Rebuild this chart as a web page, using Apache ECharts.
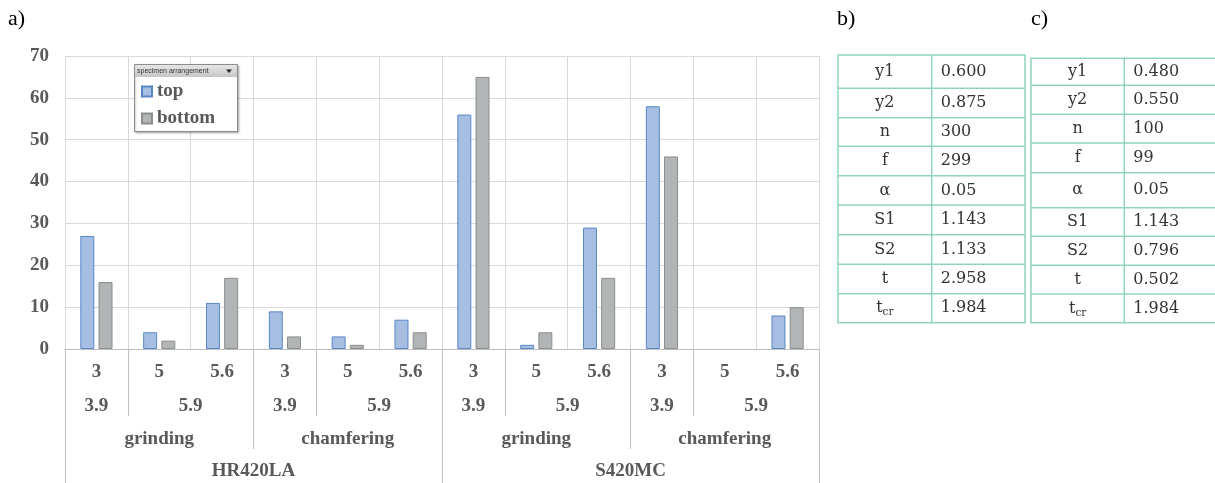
<!DOCTYPE html>
<html><head><meta charset="utf-8">
<script src="https://cdn.jsdelivr.net/npm/echarts@6/dist/echarts.min.js"></script>
<style>html,body{margin:0;padding:0;background:#fff}#c{width:1215px;height:483px}</style>
</head><body><div id="c"></div>
<script>
// ---------- data ----------
const level1 = ['3','5','5.6','3','5','5.6','3','5','5.6','3','5','5.6'];
const level2Labels = ['3.9','5.9','3.9','5.9','3.9','5.9','3.9','5.9'];
const level2Spans = [1,2,1,2,1,2,1,2];
const level3Labels = ['grinding','chamfering','grinding','chamfering'];
const level3Spans = [3,3,3,3];
const level4Labels = ['HR420LA','S420MC'];
const level4Spans = [6,6];
const seriesNames = ['top','bottom'];
const topValues = [27,4,11,9,3,7,56,1,29,58,0,8];
const bottomValues = [16,2,17,3,1,4,65,4,17,46,0,10];
const yMin = 0, yMax = 70, yStep = 10;
const legendTitle = 'specimen arrangement';
const tableKeys = ['y1','y2','n','f','α','S1','S2','t','t_cr'];
const tableBValues = ['0.600','0.875','300','299','0.05','1.143','1.133','2.958','1.984'];
const tableCValues = ['0.480','0.550','100','99','0.05','1.143','0.796','0.502','1.984'];
const panelLabels = ['a)','b)','c)'];

// ---------- layout / style ----------
const LBL = {fontFamily:'Liberation Serif', fontWeight:'bold', fontSize:19, color:'#595959'};
const GRIDC = '#d9d9d9', AXC = '#bfbfbf';
const TBL = {font:'DejaVu Serif', size:16, color:'#333333', border:'#8fd3bd'};
const tableBLayout = {x:[838,931.7,1025], y:[55,88.3,117.7,146.3,175.7,205,234.7,264.3,293.7,322.7]};
const tableCLayout = {x:[1031,1124.3,1218], y:[58.3,85.3,114.3,143,172.7,207.7,236.3,265.3,294,322.7]};

function spanInfo(spans){
  const centers=[], bounds=[0]; let p=0;
  spans.forEach(s=>{centers.push(p+s/2); p+=s; bounds.push(p);});
  return {centers,bounds};
}
function levelAxis(labels, spans, tickLen, margin){
  const info = spanInfo(spans);
  return {
    type:'value', min:0, max:level1.length, gridIndex:0, position:'bottom',
    axisLine:{show:false}, splitLine:{show:false},
    axisTick:{show:true, customValues:info.bounds, length:tickLen, lineStyle:{color:AXC,width:1}},
    axisLabel:{show:true, customValues:info.centers, margin:margin, verticalAlign:'middle',
      fontFamily:LBL.fontFamily, fontWeight:LBL.fontWeight, fontSize:LBL.fontSize, color:LBL.color,
      formatter:function(v){ const i=info.centers.findIndex(c=>Math.abs(c-v)<1e-6); return i>=0?labels[i]:''; }}
  };
}

function tableGraphics(keys, vals, L){
  const els=[];
  const x0=L.x[0], x1=L.x[1], x2=L.x[2], ys=L.y;
  els.push({type:'rect', shape:{x:x0,y:ys[0],width:x2-x0,height:ys[ys.length-1]-ys[0]},
    style:{fill:'none', stroke:TBL.border, lineWidth:1.5}, z:3});
  for(let i=1;i<ys.length-1;i++){
    els.push({type:'line', shape:{x1:x0,y1:ys[i],x2:x2,y2:ys[i]}, style:{stroke:TBL.border,lineWidth:1.5}, z:3});
  }
  els.push({type:'line', shape:{x1:x1,y1:ys[0],x2:x1,y2:ys[ys.length-1]}, style:{stroke:TBL.border,lineWidth:1.5}, z:3});
  keys.forEach((k,i)=>{
    const cy=(ys[i]+ys[i+1])/2;
    let txt=k, rich=null;
    if(k.indexOf('_')>0){ const p=k.split('_'); txt='{m|'+p[0]+'}{s|'+p[1]+'}';
      rich={m:{fontSize:TBL.size,fontFamily:TBL.font,fill:TBL.color},
            s:{fontSize:10.5,fontFamily:TBL.font,fill:TBL.color,padding:[9,0,0,0]}}; }
    els.push({type:'text', x:(x0+x1)/2, y:cy, z:4, style:{text:txt, rich:rich||undefined, align:'center', verticalAlign:'middle',
      fontFamily:TBL.font, fontSize:TBL.size, fill:TBL.color}});
    els.push({type:'text', x:x1+9, y:cy, z:4, style:{text:vals[i], align:'left', verticalAlign:'middle',
      fontFamily:TBL.font, fontSize:TBL.size, fill:TBL.color}});
  });
  return els;
}

const barData = (vals)=>vals.map(v=> v===0 ? {value:v, itemStyle:{borderWidth:0}} : v);

const graphics = [
  {type:'text', x:8, y:19, z:4, style:{text:panelLabels[0], fontFamily:'Liberation Serif', fontSize:22, fill:'#000', verticalAlign:'middle'}},
  {type:'text', x:837, y:19, z:4, style:{text:panelLabels[1], fontFamily:'Liberation Serif', fontSize:22, fill:'#000', verticalAlign:'middle'}},
  {type:'text', x:1031, y:19, z:4, style:{text:panelLabels[2], fontFamily:'Liberation Serif', fontSize:22, fill:'#000', verticalAlign:'middle'}},
  // legend box
  {type:'rect', shape:{x:134.5,y:64.5,width:103,height:67}, style:{fill:'#fff', stroke:'#8c8c8c', lineWidth:1,
     shadowBlur:2, shadowColor:'rgba(0,0,0,0.25)', shadowOffsetX:1, shadowOffsetY:1}, z:20},
  {type:'rect', shape:{x:135,y:65,width:102,height:12}, style:{fill:new echarts.graphic.LinearGradient(0,0,0,1,[{offset:0,color:'#e6e6e6'},{offset:1,color:'#c6c6c6'}])}, z:21},
  {type:'text', x:137, y:71.5, z:22, style:{text:legendTitle, fontFamily:'Liberation Sans', fontSize:7, fill:'#333', verticalAlign:'middle'}},
  {type:'polygon', shape:{points:[[226,69.5],[232,69.5],[229,73]]}, style:{fill:'#222'}, z:22}
].concat(tableGraphics(tableKeys, tableBValues, tableBLayout))
 .concat(tableGraphics(tableKeys, tableCValues, tableCLayout));

const chart = echarts.init(document.getElementById('c'), null, {renderer:'canvas'});
chart.setOption({
  animation:false,
  backgroundColor:'#fff',
  grid:{left:65, right:396, top:56, bottom:134},
  legend:{data:seriesNames, orient:'vertical', left:141, top:82, itemWidth:10, itemHeight:10, itemGap:8, padding:0,
    icon:'rect', z:30, selectedMode:false,
    textStyle:{fontFamily:LBL.fontFamily, fontWeight:'bold', fontSize:19, color:'#595959'}},
  xAxis:[
    {type:'category', data:level1, gridIndex:0, position:'bottom',
      axisLine:{show:true, lineStyle:{color:AXC,width:1}}, axisTick:{show:false},
      splitLine:{show:true, lineStyle:{color:GRIDC,width:1}},
      axisLabel:{margin:23, verticalAlign:'middle', fontFamily:LBL.fontFamily, fontWeight:'bold', fontSize:19, color:'#595959'}},
    levelAxis(level2Labels, level2Spans, 67, 57),
    levelAxis(level3Labels, level3Spans, 100, 90),
    levelAxis(level4Labels, level4Spans, 140, 122)
  ],
  yAxis:{type:'value', min:yMin, max:yMax, interval:yStep,
    axisLine:{show:false}, axisTick:{show:false},
    splitLine:{show:true, lineStyle:{color:GRIDC,width:1}},
    axisLabel:{margin:16, fontFamily:LBL.fontFamily, fontWeight:'bold', fontSize:19, color:'#595959'}},
  series:[
    {name:seriesNames[0], type:'bar', xAxisIndex:0, data:barData(topValues), barWidth:14, barGap:'30%',
      itemStyle:{color:'#a6bee1', borderColor:'#5a86c6', borderWidth:1}},
    {name:seriesNames[1], type:'bar', xAxisIndex:0, data:barData(bottomValues), barWidth:14, barGap:'30%',
      itemStyle:{color:'#b2b5b6', borderColor:'#8b8d8e', borderWidth:1}}
  ],
  graphic:{elements:graphics}
});
</script></body></html>
